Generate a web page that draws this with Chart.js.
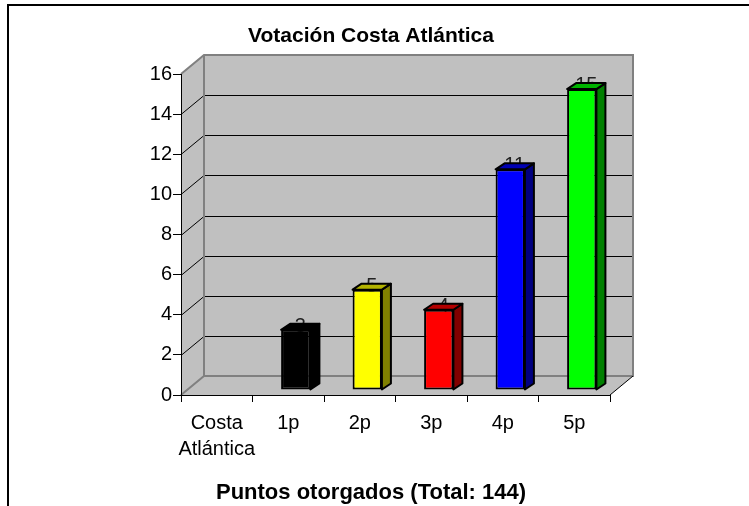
<!DOCTYPE html>
<html>
<head>
<meta charset="utf-8">
<script src="https://cdn.jsdelivr.net/npm/chart.js@4.4.1/dist/chart.umd.min.js"></script>
<style>
  html, body { margin:0; padding:0; background:#fff; }
  #wrap { width:749px; height:506px; position:relative; }
</style>
</head>
<body>
<div id="wrap"><canvas id="votChart"></canvas></div>
<script>
// data
const CATEGORIES = [['Costa','Atlántica'], '1p', '2p', '3p', '4p', '5p'];
const VOTES      = [null, 3, 5, 4, 11, 15];
const Y_TICKS    = [0, 2, 4, 6, 8, 10, 12, 14, 16];

// bar colours: front, top face, side face
const FRONT = ['#000000','#000000','#FFFF00','#FF0000','#0000FF','#00FF00'];
const TOPC  = ['#000000','#000000','#B3B300','#B30000','#0000B3','#00B300'];
const SIDE  = ['#000000','#000000','#808000','#800000','#000080','#008000'];

const FONT = "'Liberation Sans', Arial, sans-serif";
const WALL = { dx:23, dy:-19 };     // depth of the 3d box
const SHIFT = { dx:7.5, dy:-5 };    // bars sit a bit inside the box
const BDEPTH = { dx:9, dy:-6 };     // depth of each bar

function poly(ctx, pts) {
  ctx.beginPath();
  ctx.moveTo(pts[0][0], pts[0][1]);
  for (let i = 1; i < pts.length; i++) ctx.lineTo(pts[i][0], pts[i][1]);
  ctx.closePath();
}

const frame3d = {
  id: 'frame3d',
  beforeDraw(chart) {
    const { ctx, chartArea: a, scales: { y } } = chart;
    const L = a.left, R = a.right, T = a.top, B = a.bottom, dx = WALL.dx, dy = WALL.dy;
    ctx.save();
    ctx.fillStyle = '#fff';
    ctx.fillRect(0, 0, chart.width, chart.height);

    // outer frame (only top and left show)
    ctx.strokeStyle = '#000'; ctx.lineWidth = 2;
    ctx.beginPath(); ctx.moveTo(8, chart.height); ctx.lineTo(8, 5); ctx.lineTo(chart.width, 5); ctx.stroke();

    ctx.fillStyle = '#C0C0C0';
    ctx.fillRect(L + dx, T + dy, R - L, B - T);
    poly(ctx, [[L,T],[L+dx,T+dy],[L+dx,B+dy],[L,B]]); ctx.fill();
    poly(ctx, [[L,B],[L+dx,B+dy],[R+dx,B+dy],[R,B]]); ctx.fill();

    // gridlines on side + back wall
    ctx.strokeStyle = '#000'; ctx.lineWidth = 1;
    Y_TICKS.slice(1, -1).forEach(v => {
      const py = Math.round(y.getPixelForValue(v)) + 0.5;
      ctx.beginPath();
      ctx.moveTo(L, py); ctx.lineTo(L + dx, py + dy); ctx.lineTo(R + dx, py + dy);
      ctx.stroke();
    });

    ctx.strokeStyle = '#808080'; ctx.lineWidth = 2;
    ctx.beginPath();
    ctx.moveTo(L, T); ctx.lineTo(L + dx, T + dy); ctx.lineTo(R + dx, T + dy);
    ctx.lineTo(R + dx, B + dy); ctx.lineTo(L + dx, B + dy); ctx.lineTo(L, B);
    ctx.moveTo(L + dx, T + dy); ctx.lineTo(L + dx, B + dy);
    ctx.stroke();

    ctx.strokeStyle = '#000'; ctx.lineWidth = 1;
    ctx.beginPath(); ctx.moveTo(R, B); ctx.lineTo(R + dx, B + dy); ctx.stroke();
    ctx.restore();
  }
};

const bars3d = {
  id: 'bars3d',
  beforeDatasetsDraw(chart) {
    const { ctx } = chart;
    const meta = chart.getDatasetMeta(0);
    ctx.save();
    ctx.fillStyle = '#222';
    ctx.font = '20px ' + FONT;
    ctx.textAlign = 'center';
    ctx.textBaseline = 'alphabetic';
    meta.data.forEach((bar, i) => {
      if (VOTES[i] == null) return;
      ctx.fillText(String(VOTES[i]), bar.x + SHIFT.dx + BDEPTH.dx / 2, bar.y + SHIFT.dy + 2);
    });
    ctx.restore();
    ctx.save();
    ctx.translate(SHIFT.dx, SHIFT.dy);
  },
  afterDatasetsDraw(chart) {
    const { ctx } = chart;
    const meta = chart.getDatasetMeta(0);
    const bx = BDEPTH.dx, by = BDEPTH.dy;
    ctx.lineWidth = 2;
    ctx.lineJoin = 'round';
    ctx.strokeStyle = '#000';
    meta.data.forEach((bar, i) => {
      if (VOTES[i] == null) return;
      const { x, y, base, width } = bar.getProps(['x','y','base','width'], true);
      const l = x - width / 2, r = x + width / 2;
      poly(ctx, [[r,y],[r+bx,y+by],[r+bx,base+by],[r,base]]);
      ctx.fillStyle = SIDE[i]; ctx.fill(); ctx.stroke();
      poly(ctx, [[l,y],[l+bx,y+by],[r+bx,y+by],[r,y]]);
      ctx.fillStyle = TOPC[i]; ctx.fill(); ctx.stroke();
    });
    ctx.restore();
  }
};

new Chart(document.getElementById('votChart'), {
  type: 'bar',
  data: {
    labels: CATEGORIES,
    datasets: [{
      label: 'Votos',
      data: VOTES,
      backgroundColor: FRONT,
      borderColor: '#000',
      borderWidth: 2,
      borderSkipped: false,
      barPercentage: 0.41,
      categoryPercentage: 1
    }]
  },
  options: {
    responsive: true, maintainAspectRatio: false, animation: false,
    layout: { padding: { left: 0, right: 7, top: 0, bottom: 0 } },
    plugins: {
      legend: { display: false },
      tooltip: { enabled: false },
      title: { display: true, text: 'Votación Costa Atlántica', color: '#000',
        font: { family: FONT, size: 21, weight: 'bold', lineHeight: 1.2 },
        padding: { top: 23.4, bottom: 25.4 } },
      subtitle: { display: true, position: 'bottom', text: 'Puntos otorgados (Total: 144)', color: '#000',
        font: { family: FONT, size: 22, weight: 'bold', lineHeight: 1.2 },
        padding: { top: 0, bottom: 0 } }
    },
    scales: {
      x: {
        grid: { display: true, drawOnChartArea: false, drawTicks: true, tickLength: 7, color: '#000', offset: true },
        border: { display: true, color: '#000', width: 1 },
        ticks: { color: '#000', font: { family: FONT, size: 20, lineHeight: '26px' }, padding: 8, maxRotation: 0, autoSkip: false },
        afterFit: s => { s.height = 84.6; }
      },
      y: {
        min: 0, max: 16,
        afterBuildTicks: s => { s.ticks = Y_TICKS.map(v => ({ value: v })); },
        grid: { drawOnChartArea: false, tickLength: 8, color: '#000' },
        border: { color: '#000', width: 1 },
        ticks: { color: '#000', font: { family: FONT, size: 20 }, padding: 1 },
        afterFit: s => { s.width = 181; }
      },
      y2: {
        type: 'linear', position: 'right', display: true,
        grid: { display: false }, border: { display: false }, ticks: { display: false },
        afterFit: s => { s.width = 132; }
      }
    }
  },
  plugins: [frame3d, bars3d]
});
</script>
</body>
</html>
